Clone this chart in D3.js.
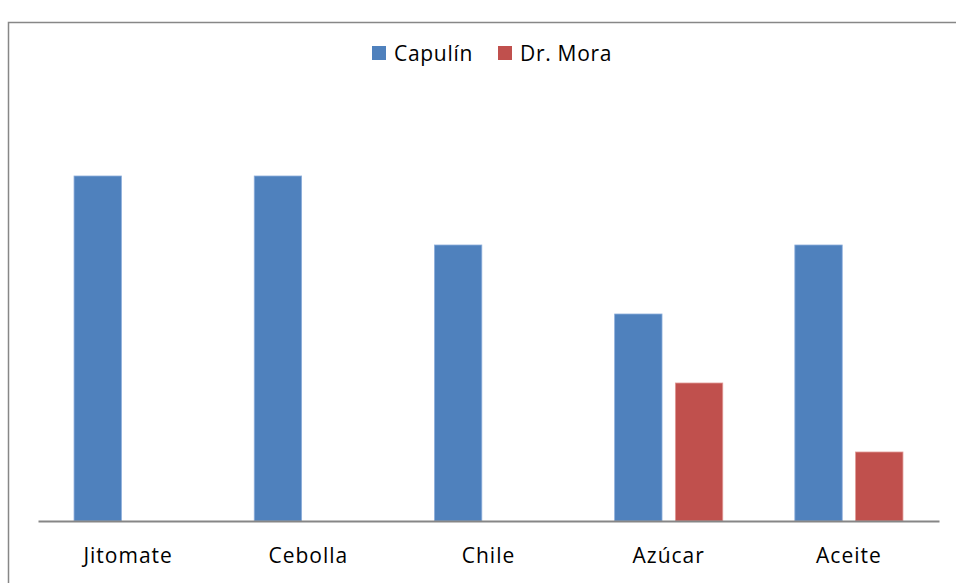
<!DOCTYPE html>
<html>
<head>
<meta charset="utf-8">
<script src="https://cdn.jsdelivr.net/npm/d3@7"></script>
<style>
  html, body { margin: 0; padding: 0; background: #fff; }
  svg { display: block; }
  text { font-family: "Open Sans", Lato, sans-serif; fill: #000; }
</style>
</head>
<body>
<svg id="chart" width="956" height="583"></svg>
<script>
// Products compared between the two stores
const categories = ["Jitomate", "Cebolla", "Chile", "Azúcar", "Aceite"];
const seriesNames = ["Capulín", "Dr. Mora"];
const capulin = [5, 5, 4, 3, 4];
const drMora = [0, 0, 0, 2, 1];
const seriesColors = ["#4F81BD", "#C0504D"];

const svg = d3.select("#chart");

// Outer chart frame (runs off the right and bottom edges)
svg.append("rect")
  .attr("x", 8.5).attr("y", 22.5)
  .attr("width", 1000).attr("height", 1000)
  .attr("fill", "#fff").attr("stroke", "#878787").attr("stroke-width", 1.5);

const plot = { left: 38, right: 939, top: 107, bottom: 521 };

const x0 = d3.scaleBand().domain(categories).range([plot.left, plot.right]).paddingInner(0.4).paddingOuter(0.2);
const x1 = d3.scaleBand().domain(seriesNames).range([0, x0.bandwidth()]).paddingInner(0.22);
const y = d3.scaleLinear().domain([0, 6]).range([plot.bottom, plot.top]);

const rows = categories.map((c, i) => ({ cat: c, values: [capulin[i], drMora[i]] }));

const groups = svg.append("g").selectAll("g").data(rows).join("g")
  .attr("transform", d => `translate(${x0(d.cat)},0)`);

groups.selectAll("rect")
  .data(d => d.values.map((v, j) => ({ name: seriesNames[j], v, j })).filter(e => e.v > 0))
  .join("rect")
  .attr("x", d => x1(d.name))
  .attr("y", d => y(d.v))
  .attr("width", x1.bandwidth())
  .attr("height", d => y(0) - y(d.v))
  .attr("fill", d => seriesColors[d.j])
  .attr("stroke", d => d.j === 0 ? "#8DAEDB" : "#E09895")
  .attr("stroke-width", 0.8);

// Category axis
const xAxis = d3.axisBottom(d3.scaleBand().domain(categories).range([plot.left, plot.right]))
  .tickSize(0).tickPadding(27);
const ax = svg.append("g").attr("transform", `translate(0,${plot.bottom})`).call(xAxis);
ax.select(".domain").attr("stroke", "#868686").attr("stroke-width", 2);
ax.selectAll("text")
  .attr("font-size", 21)
  .attr("font-family", "'Open Sans', sans-serif")
  .attr("letter-spacing", 1.0)
  .attr("fill", "#000");

// Legend
const legend = svg.append("g").attr("transform", "translate(372,46)");
const legendX = [0, 126];
seriesNames.forEach((n, i) => {
  const g = legend.append("g").attr("transform", `translate(${legendX[i]},0)`);
  g.append("rect").attr("x", 0).attr("y", 0).attr("width", 14).attr("height", 14).attr("fill", seriesColors[i]);
  g.append("text").attr("x", 22).attr("y", 15).attr("font-size", 21).attr("letter-spacing", 0.7).text(n);
});
</script>
</body>
</html>
